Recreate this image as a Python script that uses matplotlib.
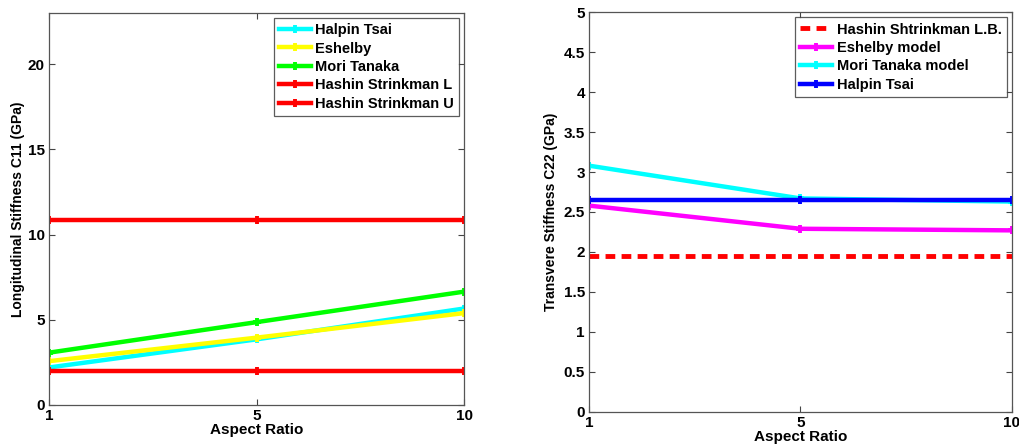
import matplotlib
matplotlib.use("Agg")
import matplotlib.pyplot as plt

# Aspect ratios (plotted at equal spacing, labelled 1 / 5 / 10)
aspect_ratio = ["1", "5", "10"]

# Longitudinal stiffness C11 (GPa)
c11_halpin_tsai = [2.20, 3.85, 5.66]
c11_eshelby = [2.57, 3.95, 5.39]
c11_mori_tanaka = [3.07, 4.86, 6.65]
c11_hs_lower = [1.98, 1.98, 1.98]
c11_hs_upper = [10.88, 10.88, 10.88]

# Transverse stiffness C22 (GPa)
c22_hs_lower = [1.95, 1.95, 1.95]
c22_eshelby = [2.58, 2.29, 2.27]
c22_mori_tanaka = [3.08, 2.67, 2.63]
c22_halpin_tsai = [2.65, 2.65, 2.65]

plt.rcParams["font.family"] = ["Liberation Sans", "DejaVu Sans"]
plt.rcParams["font.weight"] = "bold"
plt.rcParams["axes.labelweight"] = "bold"

fig = plt.figure(figsize=(10.19, 4.47), dpi=100)
ax1 = fig.add_axes([0.0481, 0.094, 0.4073, 0.877])
ax2 = fig.add_axes([0.578, 0.079, 0.4148, 0.8935])

x = list(range(len(aspect_ratio)))
style = dict(linewidth=3.2, marker="+", markersize=6, markeredgewidth=2.8)

ax1.plot(x, c11_halpin_tsai, color="#00ffff", label="Halpin Tsai", **style)
ax1.plot(x, c11_eshelby, color="#ffff00", label="Eshelby", **style)
ax1.plot(x, c11_mori_tanaka, color="#00ff00", label="Mori Tanaka", **style)
ax1.plot(x, c11_hs_lower, color="#ff0000", label="Hashin Strinkman L", **style)
ax1.plot(x, c11_hs_upper, color="#ff0000", label="Hashin Strinkman U", **style)
ax1.set_ylim(0, 23)
ax1.set_yticks([0, 5, 10, 15, 20])
ax1.set_ylabel("Longitudinal Stiffness C11 (GPa)", fontsize=10, labelpad=2)

ax2.plot(x, c22_hs_lower, color="#ff0000", linestyle=(0, (2, 1.3)), linewidth=3.5,
         label="Hashin Shtrinkman L.B.")
ax2.plot(x, c22_eshelby, color="#ff00ff", label="Eshelby model", **style)
ax2.plot(x, c22_mori_tanaka, color="#00ffff", label="Mori Tanaka model", **style)
ax2.plot(x, c22_halpin_tsai, color="#0000ff", label="Halpin Tsai", **style)
ax2.set_ylim(0, 5)
ax2.set_yticks([0, 0.5, 1, 1.5, 2, 2.5, 3, 3.5, 4, 4.5, 5])
ax2.set_yticklabels(["0", "0.5", "1", "1.5", "2", "2.5", "3", "3.5", "4", "4.5", "5"])
ax2.set_ylabel("Transvere Stiffness C22 (GPa)", fontsize=10, labelpad=4)

for ax in (ax1, ax2):
    ax.set_xlim(0, len(aspect_ratio) - 1)
    ax.set_xticks(x)
    ax.set_xticklabels(aspect_ratio)
    ax.set_xlabel("Aspect Ratio", fontsize=11, labelpad=0)
    ax.tick_params(direction="in", top=True, right=True, length=4, width=0.8,
                   labelsize=11, colors="#444444", labelcolor="black", pad=3)
    for s in ax.spines.values():
        s.set_color("#555555")
        s.set_linewidth(0.9)
    leg = ax.legend(loc="upper right", fontsize=10.5, frameon=True, fancybox=False,
                    borderaxespad=0.35, handlelength=2.2, handletextpad=0.3,
                    labelspacing=0.3, borderpad=0.35)
    leg.get_frame().set_edgecolor("#333333")
    leg.get_frame().set_linewidth(0.9)

fig.savefig("out.png", dpi=100)
